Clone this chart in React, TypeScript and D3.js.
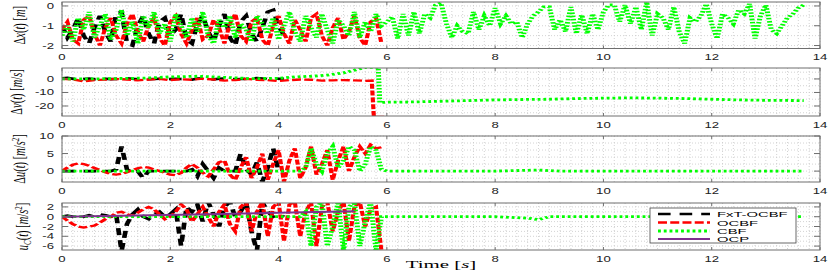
import React from 'react';
import * as d3 from 'd3';

const W = 830;
const H = 273;
const S = 1.8; // the original figure is stretched horizontally
const X0 = 62;
const X1 = 820;
const DT = 0.1;

const xTicks = [0, 2, 4, 6, 8, 10, 12, 14];

// Δx(t) [m], sampled every DT from t = 0
const blackDx = [-1.0, -1.6, -1.2, -0.6, -1.5, -1.9, -1.1, -0.5, -1.3, -1.8, -0.4, -0.3, -1.9, -2.0, -1.0, -0.5, -1.4, -1.9, -0.8, -0.6, -1.5, -1.2, -0.4, -1.7, -1.9, -0.9, -0.5, -1.3, -1.8, -1.0, -0.4, -1.6, -2.0, -0.8, -0.5, -1.4, -1.8, -1.1, -0.3, -0.2, -1.0, -1.5];
const redDx = [-1.2, -0.8, -1.7, -1.9, -0.7, -0.5, -1.4, -2.0, -1.1, -0.6, -1.5, -1.9, -0.9, -0.4, -1.3, -1.8, -1.0, -0.6, -1.6, -2.0, -0.8, -0.5, -1.4, -1.9, -1.2, -0.6, -1.7, -1.5, -0.7, -1.1, -1.9, -0.9, -0.4, -1.5, -1.8, -0.8, -0.6, -1.7, -2.0, -1.0, -0.5, -1.4, -1.9, -0.7, -1.2, -1.8, -0.6, -0.4, -1.5, -2.0, -1.1, -0.6, -1.7, -1.3, -0.5, -1.6, -2.0, -0.8, -0.6, -1.9];
const greenDx = [
  -1.5, -1.0, -1.8, -0.6, -1.2, -0.3, -1.6, -1.0, -0.4, -1.7, -1.2, -0.2, -1.5, -0.8, -1.9, -0.5, -1.1, -0.3, -1.4, -0.9,
  -1.8, -0.4, -1.0, -1.6, -0.6, -1.3, -0.3, -1.5, -1.9, -0.7, -1.1, -0.5, -1.6, -0.9, -1.2, -1.8, -0.5, -0.9, -1.4, -0.6,
  -1.7, -1.0, -0.3, -1.3, -1.8, -0.5, -1.1, -1.6, -0.4, -1.2, -1.9, -0.7, -1.0, -1.5, -0.3, -1.6, -0.8, -1.3, -0.4, -1.0,
  -0.8, -0.55, -1.65, -0.4, -1.5, -0.3, -1.4, -0.4, -0.6, 0.05, 0.15, -0.9, -1.6, -1.0, -1.3, -1.4, -0.3, -1.2, -0.5, -1.0,
  -0.1, -0.9, -0.5, -0.9, -0.8, -1.6, -0.9, -0.5, -0.3, -0.05, -0.05,
  -1.2, -0.7, -1.3, -0.05, -1.4, -0.45, -1.4, -0.4, -1.2, -0.3, 0.05, 0.05, -0.8, 0.05, -0.9, -0.05, -1.2, 0.2, -1.5, -0.4,
  -0.6, -1.2, -0.05, -1.3, -1.9, -0.6, -0.8, -0.5, 0.1, -0.9, -1.65, -0.4, -0.6, -0.9, -0.2, -0.4, 0.1, -1.65, -0.5, 0.05,
  -1.2, -1.4, -1.0, -0.6, -0.4, -0.1, 0.05,
];

// Δv(t) [m/s]
const blackDv = [0.5, 0.8, 0.2, -0.3, 0, 0.2, -0.2, 0, 0.1, -0.1, 0, 0.3, 0.5, 0.2, -0.3, 0, -0.2, 0, 0.2, 0, -0.1, 0.1, 0, 0, -0.5, 0.3, 0.5, 0, -0.3, 0.2, 0.4, 0, -0.2, 0, 0.1, 0.4, 0.6, 0.3, -0.2, 0, 0.2, 0.1];
const redDvT = [0, 0.2, 0.4, 0.6, 0.8, 1.0, 1.2, 1.4, 1.6, 1.8, 2.0, 2.2, 2.4, 2.6, 2.8, 3.0, 3.2, 3.4, 3.6, 3.8, 4.0, 4.2, 4.4, 4.6, 4.8, 5.0, 5.2, 5.4, 5.6, 5.72, 5.76, 5.95];
const redDv = [0, -0.3, -1.8, -0.8, -0.5, 0, -0.4, -1.0, -0.5, 0, -0.8, -0.3, -0.6, 0.2, -0.4, -1.2, -0.8, 0, -0.6, -0.9, -1.5, -0.9, -0.4, -0.6, -1.2, -1.0, -0.8, -1.1, -1.4, -1.2, -28, -28];
const greenDvT = [0, 0.5, 1.0, 1.5, 2.0, 2.5, 3.0, 3.5, 4.0, 4.3, 4.6, 4.9, 5.2, 5.4, 5.6, 5.84, 5.87, 6.0, 6.5, 7, 7.5, 8, 8.5, 9, 9.5, 10, 10.5, 11, 11.5, 12, 12.5, 13, 13.7];
const greenDv = [0, 0, 0.3, 0.6, 1.5, 2.0, 1.2, 0.2, 0.5, 1.5, 2.0, 2.8, 4.5, 6.5, 8.5, 8.8, -17.5, -17.2, -17, -16.5, -16, -15.5, -15.2, -15, -14.5, -14.2, -14, -14.2, -14.5, -15, -15.5, -15.8, -16];

// Δu(t) [m/s^2]
const blackDu = [0, 0, 0, 0, 0, 0, 0, 0, 0, 0, 0.5, 7.0, 0.5, -0.5, 0, -2.0, 0, 0, 0, 0, 0, 0, 0, 0, 0.5, -1.5, 2.0, 0, -2.0, 1.0, 0, 0, 0, 5.0, 0.5, -1.0, 2.5, -3.0, 1.0, 6.5, 0, 0];
const redDu = [0, 1.0, 1.8, 2.2, 2.0, 1.5, 0.9, 0.3, -0.3, -0.8, -1.0, -0.8, -0.3, 0.3, 0.8, 1.2, 1.0, 0.5, 0, -0.5, -1.0, -1.2, -0.5, 1.0, 2.0, 1.0, -0.5, -1.5, 0.5, 2.5, 3.0, -1.0, -2.5, 1.0, 4.0, -2.0, 1.0, 5.0, -2.5, 2.0, 6.0, -3.0, 3.0, 6.5, -2.0, 1.0, 7.0, -1.0, 2.0, 6.0, -2.5, 3.0, 7.0, 0, 4.0, 7.0, 5.0, 7.5, 6.5, 6.8];
const greenDuT = [0, 1, 2, 3, 4, 4.4, 4.5, 4.6, 4.7, 4.8, 4.9, 5.0, 5.1, 5.2, 5.3, 5.4, 5.5, 5.6, 5.7, 5.8, 5.9, 6.0, 7, 8, 8.5, 8.8, 9.2, 10, 11, 12, 13, 13.7];
const greenDu = [0, 0, 0, 0, 0, 0, 1, 6.5, 2, 0, 5, 7, 1, 3, 7, 6, 0, 2, 7, 6, 0.5, 0, 0, 0, 0.2, 0.3, 0, 0, 0, 0, 0, 0];

// u_C(t) [m/s^2]
const blackUc = [0, 0.2, 0, -0.3, 0, 0.3, 0, 0.5, 0.3, 0, 0.5, -7.0, -1.5, 0.5, 1.5, 0, -0.5, 0.5, 1.0, 0, 0.5, 1.5, -6.0, 2.0, 1.0, 2.5, -1.0, 3.0, 0.5, -2.0, 2.0, 3.0, 0, 1.0, 3.0, -3.0, -7.0, 3.0, 1.0, 0, 0.5, 0];
const redUc = [0, -0.8, -1.5, -2.0, -2.2, -2.0, -1.8, -1.2, -0.5, 0, 0.8, 1.0, 0.5, 0.2, 0.8, 1.5, 2.0, 1.5, 0.5, -0.5, 0, 1.0, 2.5, 1.5, -1.0, 0.5, 2.0, 0, -2.0, 1.0, 2.5, -1.5, -3.0, 2.0, 3.0, -3.0, 1.0, 3.0, -4.0, 2.0, 3.0, -5.0, 2.5, 3.0, -4.0, 1.0, 3.0, -6.0, 2.0, 3.0, -3.0, 1.0, 3.0, -5.0, 2.0, 3.0, -2.0, 1.5, 2.0, -7.0];
const greenUcT = [0, 1, 2, 3, 4, 4.4, 4.5, 4.6, 4.7, 4.8, 4.9, 5.0, 5.1, 5.2, 5.3, 5.4, 5.5, 5.6, 5.7, 5.8, 5.9, 6.0, 7, 8, 8.6, 8.8, 9.0, 10, 11, 12, 13, 13.7];
const greenUc = [0, 0, 0, 0, 0, 0, 1, -6, 2, 3, -6, -2, 3, -7, 2, 3, -6, -1, 3, -7, 0, 0, 0, 0, -0.3, -0.6, 0, 0, 0, 0, 0, 0];
const ocpT = [0, 2.7, 5.4];
const ocpUc = [0, 0.5, 1.1];

const legendNames = ['FxT-OCBF', 'OCBF', 'CBF', 'OCP'];

type Pt = [number, number];
const seq = (vals: number[]): Pt[] => vals.map((v, i) => [i * DT, v]);
const pairs = (ts: number[], vs: number[]): Pt[] => ts.map((t, i) => [t, vs[i]]);

const styles: Record<string, { color: string; width: number; dash: string | undefined }> = {
  fxt: { color: '#000000', width: 2.6, dash: '7,5' },
  ocbf: { color: '#ff0000', width: 2.3, dash: '5,1.8' },
  cbf: { color: '#00ff00', width: 2.8, dash: '1.6,1.6' },
  ocp: { color: '#7e2f8e', width: 2, dash: undefined },
};

const SANS = 'Liberation Sans, Arial, sans-serif';
const SERIF = 'Liberation Serif, Times New Roman, serif';
const it = (s: string) => <tspan fontStyle="italic">{s}</tspan>;

const panels = [
  {
    top: 2, bottom: 48.5, domain: [-2.15, 0.2], ticks: [0, -1, -2], minor: 0.5, labelX: 25,
    label: <>Δ{it('x')}({it('t')}) [{it('m')}]</>,
    series: [
      { k: 'fxt', pts: seq(blackDx) },
      { k: 'ocbf', pts: seq(redDx) },
      { k: 'cbf', pts: seq(greenDx) },
    ],
  },
  {
    top: 68, bottom: 116, domain: [-27.4, 8.1], ticks: [0, -10, -20], minor: 5, labelX: 22,
    label: <>Δ{it('v')}({it('t')}) [{it('m')}/{it('s')}]</>,
    series: [
      { k: 'fxt', pts: seq(blackDv) },
      { k: 'ocbf', pts: pairs(redDvT, redDv) },
      { k: 'cbf', pts: pairs(greenDvT, greenDv) },
    ],
  },
  {
    top: 136, bottom: 182, domain: [-3.1, 10], ticks: [0, 5, 10], minor: 2, labelX: 25,
    label: <>Δ{it('u')}({it('t')}) [{it('m')}/{it('s')}<tspan dy={-4} fontSize={7}>2</tspan><tspan dy={4}>]</tspan></>,
    series: [
      { k: 'fxt', pts: seq(blackDu) },
      { k: 'ocbf', pts: seq(redDu) },
      { k: 'cbf', pts: pairs(greenDuT, greenDu) },
    ],
  },
  {
    top: 203, bottom: 250, domain: [-6.8, 2.8], ticks: [2, 0, -2, -4, -6], minor: 1, labelX: 28,
    label: <>{it('u')}<tspan dy={2} fontSize={7} fontStyle="italic">C</tspan><tspan dy={-2}>(</tspan>{it('t')}) [{it('m')}/{it('s')}<tspan dy={-4} fontSize={7}>2</tspan><tspan dy={4}>]</tspan></>,
    series: [
      { k: 'fxt', pts: seq(blackUc) },
      { k: 'ocbf', pts: seq(redUc) },
      { k: 'cbf', pts: pairs(greenUcT, greenUc) },
      { k: 'ocp', pts: pairs(ocpT, ocpUc) },
    ],
  },
];

const xS = d3.scaleLinear().domain([0, 14]).range([X0, X1]);
const xU = d3.scaleLinear().domain([0, 14]).range([X0 / S, X1 / S]);
const minorX = d3.range(0, 14.0001, 0.2);

function Panel({ p, idx }: { p: any; idx: number }) {
  const y = d3.scaleLinear().domain(p.domain).range([p.bottom, p.top]);
  const line = d3.line<Pt>().x(d => xU(d[0])).y(d => y(d[1]));
  const lo = Math.ceil(p.domain[0] / p.minor) * p.minor;
  const minorY = d3.range(lo, p.domain[1] + 1e-6, p.minor);
  const cid = `clip${idx}`;
  return (
    <g>
      <defs>
        <clipPath id={cid}>
          <rect x={X0 / S} y={p.top} width={(X1 - X0) / S} height={p.bottom - p.top} />
        </clipPath>
      </defs>
      {minorX.map((t, i) => (
        <line key={'gx' + i} x1={xS(t)} x2={xS(t)} y1={p.top} y2={p.bottom}
          stroke="#c8c8c8" strokeWidth={0.8} strokeDasharray="1,2" />
      ))}
      {minorY.map((v, i) => (
        <line key={'gy' + i} x1={X0} x2={X1} y1={y(v)} y2={y(v)}
          stroke="#c8c8c8" strokeWidth={0.8} strokeDasharray="1,2" />
      ))}
      <g transform={`scale(${S},1)`} clipPath={`url(#${cid})`}>
        {p.series.map((s: any) => (
          <path key={s.k} d={line(s.pts) || ''} fill="none" stroke={styles[s.k].color}
            strokeWidth={styles[s.k].width} strokeDasharray={styles[s.k].dash} />
        ))}
      </g>
      <rect x={X0} y={p.top} width={X1 - X0} height={p.bottom - p.top} fill="none" stroke="#6e6e6e" strokeWidth={1} />
      {p.ticks.map((v: number) => (
        <g key={'ty' + v}>
          <line x1={X0} x2={X0 + 6} y1={y(v)} y2={y(v)} stroke="#6e6e6e" />
          <line x1={X1} x2={X1 - 6} y1={y(v)} y2={y(v)} stroke="#6e6e6e" />
          <text transform={`translate(54,${y(v) + 3}) scale(1.55,1)`} textAnchor="end"
            fontSize={8.5} fontFamily={SANS} fill="#222">{v}</text>
        </g>
      ))}
      {xTicks.map(t => (
        <g key={'tx' + t}>
          <line x1={xS(t)} x2={xS(t)} y1={p.bottom} y2={p.bottom - 3} stroke="#6e6e6e" />
          <line x1={xS(t)} x2={xS(t)} y1={p.top} y2={p.top + 3} stroke="#6e6e6e" />
          <text transform={`translate(${xS(t)},${p.bottom + 11.5}) scale(1.55,1)`} textAnchor="middle"
            fontSize={8.5} fontFamily={SANS} fill="#222">{t}</text>
        </g>
      ))}
      <text transform={`translate(${p.labelX},${(p.top + p.bottom) / 2}) scale(1.5,1) rotate(-90)`}
        textAnchor="middle" fontSize={10.5} fontFamily={SERIF} fill="#000">{p.label}</text>
    </g>
  );
}

function Legend() {
  const keys = ['fxt', 'ocbf', 'cbf', 'ocp'];
  const rows = [214, 222.5, 231, 239];
  return (
    <g>
      <rect x={650} y={208} width={146} height={35} fill="#fff" stroke="#444" strokeWidth={0.8} />
      <g transform={`scale(${S},1)`}>
        {keys.map((k, i) => (
          <line key={k} x1={658 / S} x2={710 / S} y1={rows[i]} y2={rows[i]} stroke={styles[k].color}
            strokeWidth={styles[k].width} strokeDasharray={styles[k].dash} />
        ))}
      </g>
      {legendNames.map((n, i) => (
        <text key={n} transform={`translate(717,${rows[i] + 3}) scale(1.85,1)`} fontSize={8}
          fontFamily={SANS} fill="#000">{n}</text>
      ))}
    </g>
  );
}

export default function App() {
  return (
    <svg width={W} height={H} style={{ position: 'absolute', left: 0, top: 0, background: '#fff' }}>
      <rect x={0} y={0} width={W} height={H} fill="#fff" />
      {panels.map((p, i) => <Panel key={i} p={p} idx={i} />)}
      <Legend />
      <text transform={`translate(${(X0 + X1) / 2},268) scale(1.9,1)`} textAnchor="middle"
        fontSize={11} fontFamily={SERIF} fill="#000">Time [{it('s')}]</text>
    </svg>
  );
}
